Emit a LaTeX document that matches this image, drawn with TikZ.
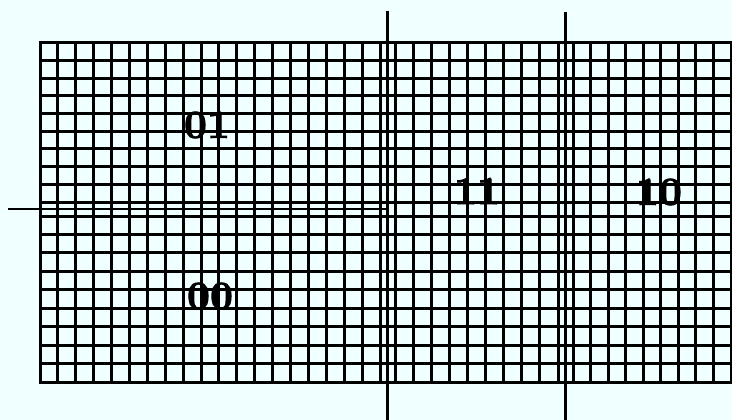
\documentclass[tikz,border=0pt]{standalone}
\usepackage{fontspec}
\newfontfamily\labfont{lmroman10-bold.otf}[FakeBold=2]
\definecolor{bgcyan}{RGB}{240,255,255}
\begin{document}
\begin{tikzpicture}[x=1pt,y=-1pt,
  gridline/.style={line width=3pt,line cap=rect},
  axisline/.style={line width=2.4pt},
  lab/.style={font=\labfont\fontsize{40}{40}\selectfont,inner sep=0pt}]
\fill[bgcyan] (0,0) rectangle (732,420);
\useasboundingbox (0,0) rectangle (732,420);
% vertical grid lines
\foreach \i in {0,...,19} \draw[gridline] ({40+\i*340/19},43) -- ({40+\i*340/19},382);
\foreach \i in {0,...,9} \draw[gridline] ({395+\i*163/9},43) -- ({395+\i*163/9},382);
\foreach \i in {0,...,9} \draw[gridline] ({573+\i*158/9},43) -- ({573+\i*158/9},382);
% horizontal grid lines
\foreach \i in {0,...,9} \draw[gridline] (40,{43+\i*159/9}) -- (732,{43+\i*159/9});
\foreach \i in {0,...,9} \draw[gridline] (40,{216+\i*166/9}) -- (732,{216+\i*166/9});
% axes
\coordinate (hA) at (8,209);
\coordinate (hB) at (388,209);
\coordinate (vA1) at (387.5,11);
\coordinate (vB1) at (387.5,420);
\coordinate (vA2) at (565.5,12);
\coordinate (vB2) at (565.5,420);
\draw[axisline] (hA) -- (hB);
\draw[axisline] (vA1) -- (vB1);
\draw[axisline] (vA2) -- (vB2);
% labels
\node[lab] (l01) at (207,125) {01};
\node[lab] (l00) at (210,296) {00};
\node[lab] (l11) at (477,191) {11};
\node[lab] (l10) at (659,192) {10};
\end{tikzpicture}
\end{document}
